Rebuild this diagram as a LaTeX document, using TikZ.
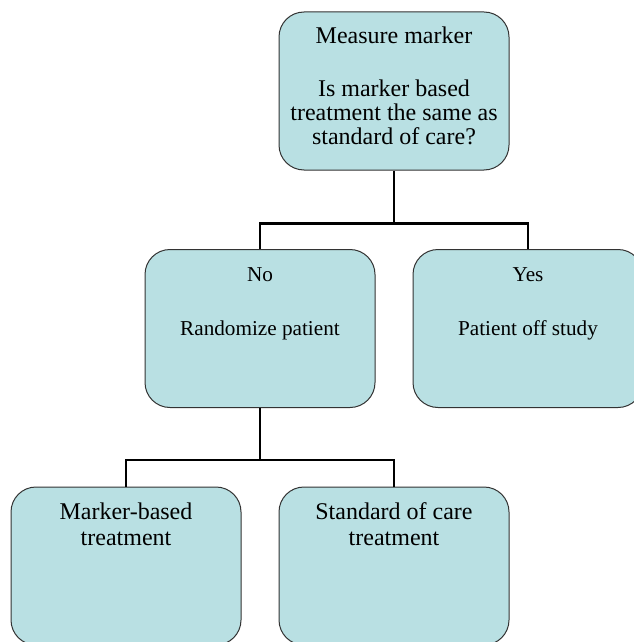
\documentclass[tikz,border=0pt]{standalone}
\usepackage{fontspec}
\setmainfont{Liberation Serif}
\usepackage{xcolor}
\usetikzlibrary{positioning}

\definecolor{boxfill}{RGB}{185,224,227}
\newcommand{\boxtxt}[2][12pt]{\parbox[c][79pt][t]{115pt}{\centering\fontsize{#1}{12pt}\selectfont\rule{0pt}{16pt}#2}}

\begin{document}
\begin{tikzpicture}[node distance=134pt, line width=1.2pt,
    bx/.style={draw=black!80, line width=0.5pt, fill=boxfill, rounded corners=12.5pt,
               inner sep=0pt, minimum width=115pt, minimum height=79pt}]
    \useasboundingbox (0,0) rectangle (316.5pt,-321pt);
    % question
    \node[bx] (measure) at (197pt,-45.5pt) {\boxtxt{Measure marker\\[14.5pt]Is marker based\\treatment the same as\\standard of care?}};
    % answers
    \node[bx] (no) [below of=measure, node distance=118.75pt, xshift=-67pt] {\boxtxt[10.6pt]{No\\[15pt]Randomize patient}};
    \node[bx] (yes) [right of=no] {\boxtxt[10.6pt]{Yes\\[15pt]Patient off study}};
    % randomized arms
    \node[bx] (mbt) [below of=no, node distance=118.75pt, xshift=-67pt] {\boxtxt{Marker-based\\[1.3pt]treatment}};
    \node[bx] (soc) [right of=mbt] {\boxtxt{Standard of care\\[1.3pt]treatment}};

    \draw (measure.south) -- ++(0,-26.5pt) coordinate (split1);
    \draw (split1) -| (no.north);
    \draw (split1) -| (yes.north);
    \draw (no.south) -- ++(0,-26pt) coordinate (split2);
    \draw (split2) -| (mbt.north);
    \draw (split2) -| (soc.north);
\end{tikzpicture}
\end{document}
